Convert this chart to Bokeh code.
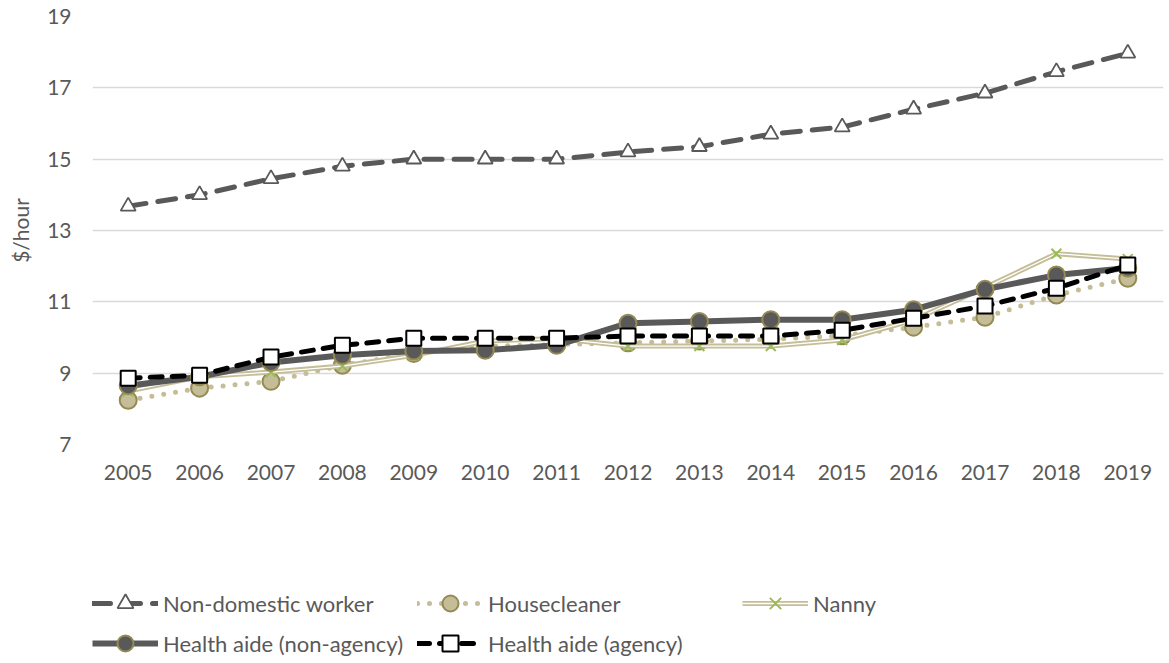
from bokeh.plotting import figure
from bokeh.models import Legend, LegendItem, FactorRange, ColumnDataSource
from bokeh.layouts import column
from bokeh.embed import file_html
from bokeh.resources import INLINE

years = [str(y) for y in range(2005, 2020)]
non_domestic = [13.68, 14.0, 14.45, 14.8, 15.0, 15.0, 15.0, 15.2, 15.35, 15.7, 15.9, 16.4, 16.85, 17.45, 17.97]
housecleaner = [8.24, 8.58, 8.77, 9.22, 9.55, 9.75, 9.8, 9.85, 9.9, 9.95, 10.05, 10.29, 10.57, 11.19, 11.66]
nanny = [8.5, 8.9, 9.03, 9.2, 9.5, 9.9, 9.97, 9.76, 9.76, 9.76, 9.93, 10.49, 11.4, 12.35, 12.2]
health_non_agency = [8.65, 8.9, 9.3, 9.5, 9.62, 9.64, 9.78, 10.4, 10.45, 10.5, 10.5, 10.78, 11.35, 11.75, 11.95]
health_agency = [8.86, 8.94, 9.45, 9.78, 9.98, 9.98, 9.98, 10.04, 10.04, 10.04, 10.2, 10.54, 10.88, 11.38, 12.03]
y_ticks = [7, 9, 11, 13, 15, 17, 19]
series_names = ["Non-domestic worker", "Housecleaner", "Nanny",
                "Health aide (non-agency)", "Health aide (agency)"]

FONT = "Lato"
TXT = "#595959"
GRAY = "#595959"
TAN = "#c4bd97"
OLIVE = "#948a54"
GREEN = "#9bbb59"

# style per series: list of (kind, kwargs)
styles = {
    "nd": [("line", dict(line_color=GRAY, line_width=5, line_dash="18 12", line_cap="round")),
           ("scatter", dict(marker="triangle", size=15, fill_color="white", line_color=GRAY, line_width=1.8))],
    "hc": [("line", dict(line_color=TAN, line_width=5, line_dash="0 12", line_cap="round")),
           ("scatter", dict(marker="circle", size=17, fill_color=TAN, line_color=OLIVE, line_width=2))],
    "na": [("line", dict(line_color=TAN, line_width=5)),
           ("line", dict(line_color="white", line_width=1.3)),
           ("scatter", dict(marker="x", size=14, line_color=GREEN, line_width=2))],
    "hn": [("line", dict(line_color=GRAY, line_width=6)),
           ("scatter", dict(marker="circle", size=17, fill_color=GRAY, line_color=OLIVE, line_width=2))],
    "ha": [("line", dict(line_color="black", line_width=5, line_dash="12 10", line_cap="round")),
           ("scatter", dict(marker="square", size=15, fill_color="white", line_color="black", line_width=2))],
}
keys = ["nd", "hc", "na", "hn", "ha"]

src = ColumnDataSource(dict(x=years, nd=non_domestic, hc=housecleaner, na=nanny,
                            hn=health_non_agency, ha=health_agency))

p = figure(width=1169, height=500, x_range=FactorRange(*years, range_padding=0),
           y_range=(7, 19), output_backend="svg", toolbar_location=None,
           min_border_left=92, min_border_right=6, min_border_top=16, min_border_bottom=56)
p.outline_line_color = None
p.xgrid.grid_line_color = None
p.ygrid.grid_line_color = "#d9d9d9"
p.ygrid.grid_line_width = 1.5
p.yaxis.ticker = y_ticks
for ax in (p.xaxis, p.yaxis):
    ax.axis_line_color = None
    ax.major_tick_line_color = None
    ax.minor_tick_line_color = None
    ax.major_label_text_font = FONT
    ax.major_label_text_font_size = "21px"
    ax.major_label_text_color = TXT
p.yaxis.major_label_standoff = 15
p.xaxis.major_label_standoff = 14
p.yaxis.axis_label = "$/hour"
p.yaxis.axis_label_text_font = FONT
p.yaxis.axis_label_text_font_size = "21px"
p.yaxis.axis_label_text_font_style = "normal"
p.yaxis.axis_label_text_color = TXT
p.yaxis.axis_label_standoff = 11

for k in keys:
    for kind, kw in styles[k]:
        getattr(p, kind)("x", k, source=src, **kw)

# legend panel below the chart (legend-only figure; its glyphs sit outside its view)
lp = figure(width=1169, height=163, x_range=(0, 1), y_range=(0, 1), output_backend="svg",
            toolbar_location=None, x_axis_type=None, y_axis_type=None,
            min_border=0, min_border_left=92, min_border_right=6, min_border_top=0, min_border_bottom=0)
lp.outline_line_color = None
lp.xgrid.visible = False
lp.ygrid.visible = False
offview = ColumnDataSource(dict(x=[-10.0], y=[-10.0]))
items = []
for k, name in zip(keys, series_names):
    rs = [getattr(lp, kind)("x", "y", source=offview, **kw) for kind, kw in styles[k]]
    items.append(LegendItem(label=name, renderers=rs))

leg_kw = dict(orientation="horizontal", glyph_width=66, glyph_height=40, label_height=40,
              label_width=254, label_standoff=5, spacing=0, padding=0, margin=0,
              border_line_color=None, background_fill_alpha=0,
              label_text_font=FONT, label_text_font_size="22px", label_text_color=TXT)
lp.add_layout(Legend(items=items[:3], location=(0, 40), **leg_kw))
lp.add_layout(Legend(items=items[3:], location=(0, 0), **leg_kw))

open("out.html", "w").write(file_html(column(p, lp), INLINE))
